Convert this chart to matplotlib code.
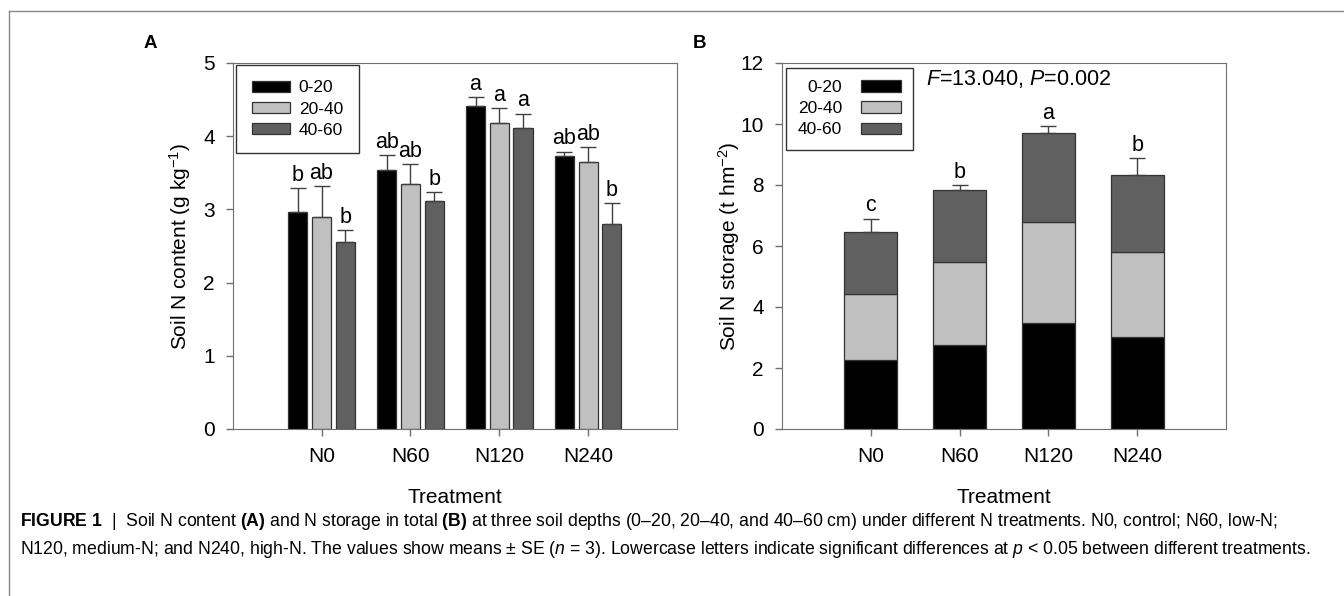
import matplotlib
matplotlib.use("Agg")
import matplotlib.pyplot as plt
import numpy as np
from matplotlib.lines import Line2D

plt.rcParams.update({"font.family": "Liberation Sans", "mathtext.fontset": "custom",
                     "mathtext.rm": "Liberation Sans", "mathtext.it": "Liberation Sans:italic",
                     "mathtext.bf": "Liberation Sans:bold", "axes.edgecolor": "#707070",
                     "xtick.color": "#707070", "ytick.color": "#707070",
                     "xtick.labelcolor": "black", "ytick.labelcolor": "black"})

treatments = ["N0", "N60", "N120", "N240"]
depths = ["0-20", "20-40", "40-60"]
COLORS = ["#000000", "#c0c0c0", "#606060"]

# ---- panel A: soil N content (g kg-1), mean and SE ----
content_0_20 = [2.96, 3.54, 4.41, 3.73]
content_20_40 = [2.89, 3.35, 4.18, 3.65]
content_40_60 = [2.55, 3.12, 4.11, 2.80]
se_0_20 = [0.33, 0.20, 0.12, 0.06]
se_20_40 = [0.43, 0.27, 0.21, 0.20]
se_40_60 = [0.17, 0.12, 0.20, 0.29]
letters_0_20 = ["b", "ab", "a", "ab"]
letters_20_40 = ["ab", "ab", "a", "ab"]
letters_40_60 = ["b", "b", "a", "b"]

# ---- panel B: soil N storage (t hm-2), stacked by depth ----
storage_0_20 = [2.27, 2.75, 3.47, 3.02]
storage_20_40 = [2.15, 2.74, 3.33, 2.79]
storage_40_60 = [2.04, 2.36, 2.91, 2.53]
storage_se = [0.44, 0.14, 0.21, 0.55]
storage_letters = ["c", "b", "a", "b"]
stat_text = r"$\it{F}$=13.040, $\it{P}$=0.002"

W, H = 1344, 596
FS = 15
fig = plt.figure(figsize=(W / 100, H / 100), dpi=100)
axA = fig.add_axes([232.7 / W, 1 - 429 / H, 444.3 / W, 366 / H])
axB = fig.add_axes([782 / W, 1 - 429 / H, 444 / W, 366 / H])

x = np.arange(1, len(treatments) + 1)
bw, off = 0.214, 0.267
groups = [(content_0_20, se_0_20, letters_0_20),
          (content_20_40, se_20_40, letters_20_40),
          (content_40_60, se_40_60, letters_40_60)]
for i, (vals, se, lets) in enumerate(groups):
    xs = x + (i - 1) * off
    axA.bar(xs, vals, bw, color=COLORS[i], edgecolor="#333333", lw=0.9, label=depths[i], zorder=2)
    axA.errorbar(xs, vals, yerr=[np.zeros(len(se)), se], fmt="none", ecolor="#404040",
                 elinewidth=1, capsize=6, capthick=1, zorder=3)
    for xi, v, s, l in zip(xs, vals, se, lets):
        axA.annotate(l, (xi, v + s), xytext=(0, 1.5), textcoords="offset points",
                     ha="center", va="bottom", fontsize=15.5)
axA.set_ylim(0, 5)
axA.set_yticks(range(0, 6))
axA.set_ylabel(r"Soil N content (g kg$^{-1}$)", fontsize=FS)
axA.legend(loc="upper left", bbox_to_anchor=(0.008, 0.995), borderaxespad=0, fontsize=12.5,
           fancybox=False, edgecolor="#333333", framealpha=1, handlelength=2.2,
           handleheight=0.65, labelspacing=0.35, borderpad=0.9, handletextpad=0.5)

bottom = np.zeros(len(treatments))
for i, vals in enumerate([storage_0_20, storage_20_40, storage_40_60]):
    axB.bar(x, vals, 0.6, bottom=bottom, color=COLORS[i], edgecolor="#333333", lw=0.9,
            label=depths[i], zorder=2)
    bottom = bottom + np.array(vals)
axB.errorbar(x, bottom, yerr=[np.zeros(len(storage_se)), storage_se], fmt="none",
             ecolor="#404040", elinewidth=1, capsize=6, capthick=1, zorder=3)
for xi, v, s, l in zip(x, bottom, storage_se, storage_letters):
    axB.annotate(l, (xi, v + s), xytext=(0, 1.5), textcoords="offset points",
                 ha="center", va="bottom", fontsize=15.5)
axB.set_ylim(0, 12)
axB.set_yticks(range(0, 13, 2))
axB.set_ylabel(r"Soil N storage (t hm$^{-2}$)", fontsize=FS)
axB.text(0.325, 0.955, stat_text, transform=axB.transAxes, fontsize=15.5, va="center", ha="left")
axB.legend(loc="upper left", bbox_to_anchor=(0.008, 0.986), borderaxespad=0, fontsize=12.5,
           fancybox=False, edgecolor="#333333", framealpha=1, handlelength=2.3,
           handleheight=0.65, labelspacing=0.35, borderpad=0.7, handletextpad=1.1,
           markerfirst=False)

for ax in (axA, axB):
    ax.set_xlim(0, 5)
    ax.set_xticks(x)
    ax.set_xticklabels(treatments)
    ax.tick_params(labelsize=FS, length=5, width=1, direction="out", pad=8)
    ax.set_xlabel("Treatment", fontsize=FS)
    ax.xaxis.set_label_coords(0.5, -0.16)
    ax.yaxis.set_label_coords(-0.09, 0.5)

fig.text(150 / W, 1 - 43 / H, "A", fontsize=13.5, weight="bold", ha="center", va="center")
fig.text(700 / W, 1 - 43 / H, "B", fontsize=13.5, weight="bold", ha="center", va="center")

# figure frame (top and left rules)
fig.add_artist(Line2D([9 / W, 1], [1 - 11 / H] * 2, transform=fig.transFigure, color="#888888", lw=1))
fig.add_artist(Line2D([9 / W] * 2, [0, 1 - 11 / H], transform=fig.transFigure, color="#888888", lw=1))

cap1 = (r"$\bf{FIGURE\ 1}$  |  Soil N content $\bf{(A)}$ and N storage in total $\bf{(B)}$ at three soil "
        r"depths (0–20, 20–40, and 40–60 cm) under different N treatments. N0, control; N60, low-N;")
cap2 = (r"N120, medium-N; and N240, high-N. The values show means ± SE ($\it{n}$ = 3). Lowercase letters "
        r"indicate significant differences at $\it{p}$ < 0.05 between different treatments.")
fig.text(20 / W, 1 - 521 / H, cap1, fontsize=12.7, va="center", ha="left")
fig.text(20 / W, 1 - 550 / H, cap2, fontsize=12.7, va="center", ha="left")

fig.savefig("out.png", dpi=100)
